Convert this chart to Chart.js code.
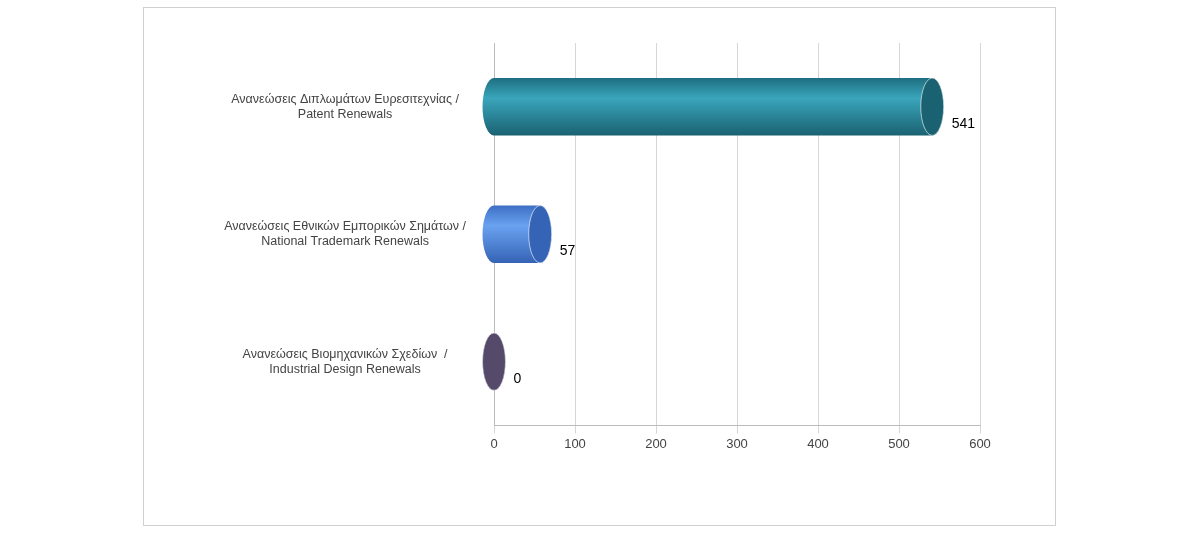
<!DOCTYPE html>
<html><head><meta charset="utf-8">
<script src="https://cdn.jsdelivr.net/npm/chart.js@4/dist/chart.umd.min.js"></script>
<style>html,body{margin:0;background:#fff}#wrap{position:absolute;left:143px;top:7px;width:913px;height:519px;border:1px solid #d0d0d0;box-sizing:border-box}</style>
</head><body><div id="wrap"><canvas id="c"></canvas></div>
<script>
const categories=[["Ανανεώσεις Διπλωμάτων Ευρεσιτεχνίας /","Patent Renewals"],["Ανανεώσεις Εθνικών Εμπορικών Σημάτων /","National Trademark Renewals"],["Ανανεώσεις Βιομηχανικών Σχεδίων  /","Industrial Design Renewals"]];
const values=[541,57,0];
const xTicks=[0,100,200,300,400,500,600];
const colors=[["#1d6f80","#3aa5bb","#1a6272"],["#3d6fc4","#6aa2f0","#3563b5"],["#5e5274","#8f82a6","#564a6b"]];
const cyl={id:'cyl',afterDatasetsDraw(ch){const ctx=ch.ctx;const meta=ch.getDatasetMeta(0);const x0=ch.scales.x.getPixelForValue(0);
meta.data.forEach((b,i)=>{const h=b.height,top=b.y-h/2,xe=b.x,rx=h*0.2;const c=colors[i];
const g=ctx.createLinearGradient(0,top,0,top+h);g.addColorStop(0,c[0]);g.addColorStop(0.35,c[1]);g.addColorStop(1,c[2]);
ctx.save();ctx.fillStyle=g;ctx.beginPath();ctx.ellipse(x0,b.y,rx,h/2,0,Math.PI/2,Math.PI*1.5);ctx.lineTo(xe,top);ctx.ellipse(xe,b.y,rx,h/2,0,-Math.PI/2,Math.PI/2);ctx.closePath();ctx.fill();
ctx.fillStyle=c[2];ctx.strokeStyle='rgba(255,255,255,0.6)';ctx.beginPath();ctx.ellipse(xe,b.y,rx,h/2,0,0,Math.PI*2);ctx.fill();ctx.stroke();
ctx.fillStyle='#000';ctx.font='14px "Liberation Sans", Arial';ctx.textBaseline='middle';ctx.fillText(String(values[i]),xe+rx+8,b.y+h*0.3);ctx.restore();});}};
new Chart(document.getElementById('c'),{type:'bar',data:{labels:categories,datasets:[{data:values,backgroundColor:'rgba(0,0,0,0)',barPercentage:0.5,categoryPercentage:0.9}]},
options:{indexAxis:'y',responsive:true,maintainAspectRatio:false,animation:false,layout:{padding:{top:18,right:75,bottom:70,left:20}},
plugins:{legend:{display:false},tooltip:{enabled:false}},
scales:{x:{min:0,max:600,ticks:{stepSize:100,color:'#444',font:{size:13,family:'"Liberation Sans", Arial'}},grid:{color:'#d6d6d6'},border:{color:'#bbb'}},
y:{afterFit(s){s.width=330;},ticks:{crossAlign:'center',color:'#444',font:{size:12.5,family:'"Liberation Sans", Arial'},padding:20},grid:{display:false},border:{color:'#bbb'}}}},plugins:[cyl]});
</script></body></html>
